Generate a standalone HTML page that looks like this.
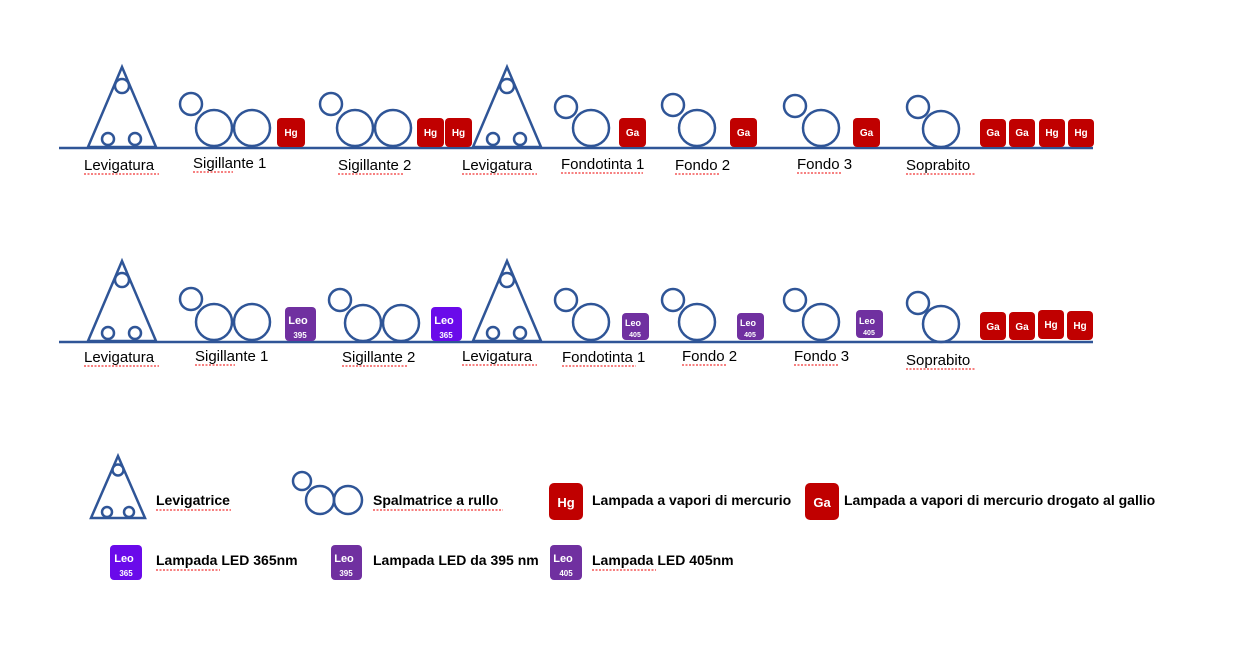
<!DOCTYPE html>
<html><head><meta charset="utf-8"><style>
html,body{margin:0;padding:0;background:#fff;}
svg{display:block;font-family:"Liberation Sans",sans-serif;}
.o{fill:none;stroke:#2F5597;stroke-width:2.5}
.l{font-size:15px;fill:#000}
.b{font-size:14px;font-weight:bold;fill:#000}
.lt{fill:#fff;font-weight:bold;text-anchor:middle}
.sq{stroke:#e00;stroke-width:1;stroke-dasharray:2 1.5;fill:none}
</style></head><body>
<svg width="1254" height="670" viewBox="0 0 1254 670">
<!-- baselines -->
<line x1="59" y1="148" x2="1093" y2="148" stroke="#2F5597" stroke-width="2.5"/>
<line x1="59" y1="342" x2="1093" y2="342" stroke="#2F5597" stroke-width="2.5"/>

<!-- ROW 1 -->
<g class="o">
<polygon points="122,67 88,147 156,147"/><circle cx="122" cy="86" r="7"/><circle cx="108" cy="139" r="6"/><circle cx="135" cy="139" r="6"/>
<circle cx="191" cy="104" r="11"/><circle cx="214" cy="128" r="18"/><circle cx="252" cy="128" r="18"/>
<circle cx="331" cy="104" r="11"/><circle cx="355" cy="128" r="18"/><circle cx="393" cy="128" r="18"/>
<polygon points="507,67 473,147 541,147"/><circle cx="507" cy="86" r="7"/><circle cx="493" cy="139" r="6"/><circle cx="520" cy="139" r="6"/>
<circle cx="566" cy="107" r="11"/><circle cx="591" cy="128" r="18"/>
<circle cx="673" cy="105" r="11"/><circle cx="697" cy="128" r="18"/>
<circle cx="795" cy="106" r="11"/><circle cx="821" cy="128" r="18"/>
<circle cx="918" cy="107" r="11"/><circle cx="941" cy="129" r="18"/>
</g>
<g font-size="10">
<rect x="277" y="118" width="28" height="29" rx="4" fill="#C00000"/><text class="lt" x="291" y="136">Hg</text>
<rect x="417" y="118" width="27" height="29" rx="4" fill="#C00000"/><text class="lt" x="430.5" y="136">Hg</text>
<rect x="445" y="118" width="27" height="29" rx="4" fill="#C00000"/><text class="lt" x="458.5" y="136">Hg</text>
<rect x="619" y="118" width="27" height="29" rx="4" fill="#C00000"/><text class="lt" x="632.5" y="136">Ga</text>
<rect x="730" y="118" width="27" height="29" rx="4" fill="#C00000"/><text class="lt" x="743.5" y="136">Ga</text>
<rect x="853" y="118" width="27" height="29" rx="4" fill="#C00000"/><text class="lt" x="866.5" y="136">Ga</text>
<rect x="980" y="119" width="26" height="28" rx="4" fill="#C00000"/><text class="lt" x="993" y="136">Ga</text>
<rect x="1009" y="119" width="26" height="28" rx="4" fill="#C00000"/><text class="lt" x="1022" y="136">Ga</text>
<rect x="1039" y="119" width="26" height="28" rx="4" fill="#C00000"/><text class="lt" x="1052" y="136">Hg</text>
<rect x="1068" y="119" width="26" height="28" rx="4" fill="#C00000"/><text class="lt" x="1081" y="136">Hg</text>
</g>
<g class="l">
<text x="84" y="170">Levigatura</text><text x="193" y="168">Sigillante 1</text><text x="338" y="170">Sigillante 2</text><text x="462" y="170">Levigatura</text>
<text x="561" y="169">Fondotinta 1</text><text x="675" y="170">Fondo 2</text><text x="797" y="169">Fondo 3</text><text x="906" y="170">Soprabito</text>
</g>
<g class="sq">
<line x1="84" y1="174" x2="159" y2="174"/><line x1="193" y1="172" x2="233" y2="172"/><line x1="338" y1="174" x2="404" y2="174"/><line x1="462" y1="174" x2="537" y2="174"/>
<line x1="561" y1="173" x2="643" y2="173"/><line x1="675" y1="174" x2="720" y2="174"/><line x1="797" y1="173" x2="842" y2="173"/><line x1="906" y1="174" x2="975" y2="174"/>
</g>

<!-- ROW 2 -->
<g class="o">
<polygon points="122,261 88,341 156,341"/><circle cx="122" cy="280" r="7"/><circle cx="108" cy="333" r="6"/><circle cx="135" cy="333" r="6"/>
<circle cx="191" cy="299" r="11"/><circle cx="214" cy="322" r="18"/><circle cx="252" cy="322" r="18"/>
<circle cx="340" cy="300" r="11"/><circle cx="363" cy="323" r="18"/><circle cx="401" cy="323" r="18"/>
<polygon points="507,261 473,341 541,341"/><circle cx="507" cy="280" r="7"/><circle cx="493" cy="333" r="6"/><circle cx="520" cy="333" r="6"/>
<circle cx="566" cy="300" r="11"/><circle cx="591" cy="322" r="18"/>
<circle cx="673" cy="300" r="11"/><circle cx="697" cy="322" r="18"/>
<circle cx="795" cy="300" r="11"/><circle cx="821" cy="322" r="18"/>
<circle cx="918" cy="303" r="11"/><circle cx="941" cy="324" r="18"/>
</g>
<g>
<rect x="285" y="307" width="31" height="34" rx="4" fill="#7030A0"/><text class="lt" x="298" y="324" font-size="11">Leo</text><text class="lt" x="300" y="338" font-size="8">395</text>
<rect x="431" y="307" width="31" height="34" rx="4" fill="#6A0AEA"/><text class="lt" x="444" y="324" font-size="11">Leo</text><text class="lt" x="446" y="338" font-size="8">365</text>
<rect x="622" y="313" width="27" height="27" rx="4" fill="#7030A0"/><text class="lt" x="633" y="326" font-size="9">Leo</text><text class="lt" x="635" y="337" font-size="7">405</text>
<rect x="737" y="313" width="27" height="27" rx="4" fill="#7030A0"/><text class="lt" x="748" y="326" font-size="9">Leo</text><text class="lt" x="750" y="337" font-size="7">405</text>
<rect x="856" y="310" width="27" height="28" rx="4" fill="#7030A0"/><text class="lt" x="867" y="324" font-size="9">Leo</text><text class="lt" x="869" y="335" font-size="7">405</text>
</g>
<g font-size="10">
<rect x="980" y="312" width="26" height="28" rx="4" fill="#C00000"/><text class="lt" x="993" y="330">Ga</text>
<rect x="1009" y="312" width="26" height="28" rx="4" fill="#C00000"/><text class="lt" x="1022" y="330">Ga</text>
<rect x="1038" y="310" width="26" height="29" rx="4" fill="#C00000"/><text class="lt" x="1051" y="328">Hg</text>
<rect x="1067" y="311" width="26" height="29" rx="4" fill="#C00000"/><text class="lt" x="1080" y="329">Hg</text>
</g>
<g class="l">
<text x="84" y="362">Levigatura</text><text x="195" y="361">Sigillante 1</text><text x="342" y="362">Sigillante 2</text><text x="462" y="361">Levigatura</text>
<text x="562" y="362">Fondotinta 1</text><text x="682" y="361">Fondo 2</text><text x="794" y="361">Fondo 3</text><text x="906" y="365">Soprabito</text>
</g>
<g class="sq">
<line x1="84" y1="366" x2="159" y2="366"/><line x1="195" y1="365" x2="235" y2="365"/><line x1="342" y1="366" x2="408" y2="366"/><line x1="462" y1="365" x2="537" y2="365"/>
<line x1="562" y1="366" x2="636" y2="366"/><line x1="682" y1="365" x2="727" y2="365"/><line x1="794" y1="365" x2="839" y2="365"/><line x1="906" y1="369" x2="975" y2="369"/>
</g>

<!-- LEGEND -->
<g class="o" stroke-width="2">
<polygon points="118,456 91,518 145,518"/><circle cx="118" cy="470" r="5.5"/><circle cx="107" cy="512" r="5"/><circle cx="129" cy="512" r="5"/>
<circle cx="302" cy="481" r="9"/><circle cx="320" cy="500" r="14"/><circle cx="348" cy="500" r="14"/>
</g>
<rect x="549" y="483" width="34" height="37" rx="5" fill="#C00000"/><text class="lt" x="566" y="507" font-size="13">Hg</text>
<rect x="805" y="483" width="34" height="37" rx="5" fill="#C00000"/><text class="lt" x="822" y="507" font-size="13">Ga</text>
<rect x="110" y="545" width="32" height="35" rx="4" fill="#6A0AEA"/><text class="lt" x="124" y="562" font-size="11">Leo</text><text class="lt" x="126" y="576" font-size="8">365</text>
<rect x="331" y="545" width="31" height="35" rx="4" fill="#7030A0"/><text class="lt" x="344" y="562" font-size="11">Leo</text><text class="lt" x="346" y="576" font-size="8">395</text>
<rect x="550" y="545" width="32" height="35" rx="4" fill="#7030A0"/><text class="lt" x="563" y="562" font-size="11">Leo</text><text class="lt" x="566" y="576" font-size="8">405</text>
<g class="b">
<text x="156" y="505">Levigatrice</text><text x="373" y="505">Spalmatrice a rullo</text>
<text x="592" y="505">Lampada a vapori di mercurio</text><text x="844" y="505">Lampada a vapori di mercurio drogato al gallio</text>
<text x="156" y="565">Lampada LED 365nm</text><text x="373" y="565">Lampada LED da 395 nm</text><text x="592" y="565">Lampada LED 405nm</text>
</g>
<g class="sq">
<line x1="156" y1="510" x2="231" y2="510"/><line x1="373" y1="510" x2="503" y2="510"/><line x1="592" y1="570" x2="656" y2="570"/><line x1="156" y1="570" x2="220" y2="570"/>
</g>
</svg>
</body></html>
